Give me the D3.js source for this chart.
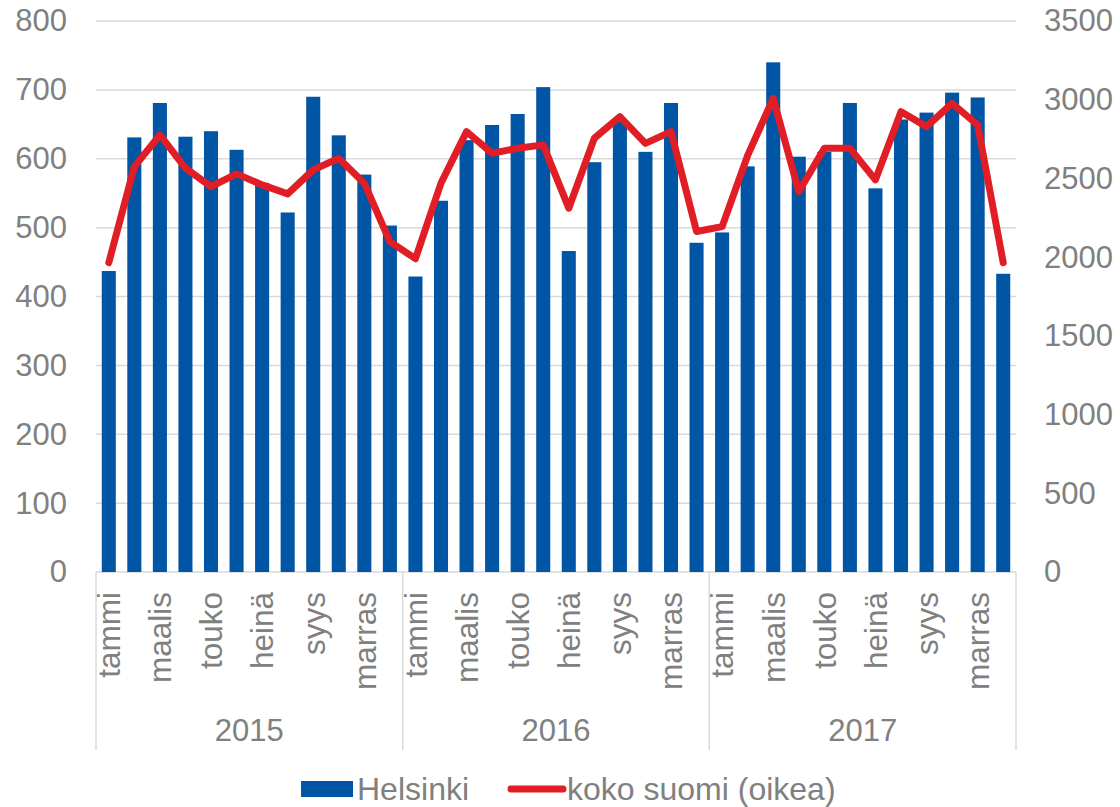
<!DOCTYPE html>
<html>
<head>
<meta charset="utf-8">
<script src="https://cdn.jsdelivr.net/npm/d3@7"></script>
<style>
  body { margin: 0; background: #fff; }
  text { font-family: "Liberation Sans", Arial, sans-serif; fill: #808080; }
</style>
</head>
<body>
<div id="chart-area"></div>
<script>
const WIDTH = 1120;
const HEIGHT = 807;

// data
const years = ["2015", "2016", "2017"];
const monthNames = ["tammi", "helmi", "maalis", "huhti", "touko", "kesä",
                    "heinä", "elo", "syys", "loka", "marras", "joulu"];
const shownMonths = ["tammi", "maalis", "touko", "heinä", "syys", "marras"];
const helsinki = [437, 631, 681, 632, 640, 613, 565, 522, 690, 634, 577, 503,
                  429, 539, 627, 649, 665, 704, 466, 595, 654, 610, 681, 478,
                  493, 589, 740, 603, 610, 681, 557, 657, 667, 696, 689, 433];
const kokoSuomi = [1965, 2575, 2776, 2565, 2448, 2529, 2459, 2402, 2554, 2628, 2470, 2099,
                   1990, 2470, 2797, 2660, 2692, 2713, 2311, 2755, 2893, 2723, 2797, 2163,
                   2194, 2646, 3009, 2416, 2692, 2692, 2491, 2924, 2829, 2977, 2840, 1965];
const leftTicks = [0, 100, 200, 300, 400, 500, 600, 700, 800];
const rightTicks = [0, 500, 1000, 1500, 2000, 2500, 3000, 3500];

const BLUE = "#0055a5";
const RED = "#e11e26";
const GRID = "#d9d9d9";

const margin = {top: 21, right: 104, bottom: 235, left: 96};
const graphWidth = WIDTH - margin.left - margin.right;
const graphHeight = HEIGHT - margin.top - margin.bottom;

const svg = d3.select("#chart-area").append("svg")
  .attr("width", WIDTH)
  .attr("height", HEIGHT);

const graph = svg.append("g")
  .attr("transform", `translate(${margin.left}, ${margin.top})`);

const keys = [];
years.forEach(y => monthNames.forEach(m => keys.push(y + "-" + m)));

// scales
const x = d3.scaleBand()
  .domain(keys)
  .range([0, graphWidth])
  .paddingInner(0.45)
  .paddingOuter(0.225);

const y = d3.scaleLinear().domain([0, 800]).range([graphHeight, 0]);
const y2 = d3.scaleLinear().domain([0, 3500]).range([graphHeight, 0]);

// gridlines
graph.append("g").selectAll("line")
  .data(leftTicks)
  .enter().append("line")
    .attr("x1", 0)
    .attr("x2", graphWidth)
    .attr("y1", d => y(d))
    .attr("y2", d => y(d))
    .attr("stroke", GRID)
    .attr("stroke-width", 1.5);

// left axis
const yAxis = d3.axisLeft(y).tickValues(leftTicks).tickSize(0).tickPadding(29);
const yAxisGroup = graph.append("g").call(yAxis);
yAxisGroup.select(".domain").remove();
yAxisGroup.selectAll("text")
  .attr("font-size", "31px")
  .attr("font-family", "Liberation Sans, Arial, sans-serif")
  .attr("fill", "#808080");

// right axis
const yAxis2 = d3.axisRight(y2).tickValues(rightTicks).tickSize(0).tickPadding(28)
  .tickFormat(d3.format("d"));
const yAxis2Group = graph.append("g")
  .attr("transform", `translate(${graphWidth}, 0)`)
  .call(yAxis2);
yAxis2Group.select(".domain").remove();
yAxis2Group.selectAll("text")
  .attr("font-size", "31px")
  .attr("font-family", "Liberation Sans, Arial, sans-serif")
  .attr("fill", "#808080");

// bars
graph.append("g").selectAll("rect")
  .data(helsinki)
  .enter().append("rect")
    .attr("x", (d, i) => x(keys[i]))
    .attr("y", d => y(d))
    .attr("width", x.bandwidth())
    .attr("height", d => graphHeight - y(d))
    .attr("fill", BLUE);

// line
const line = d3.line()
  .x((d, i) => x(keys[i]) + x.bandwidth() / 2)
  .y(d => y2(d));

graph.append("path")
  .datum(kokoSuomi)
  .attr("d", line)
  .attr("fill", "none")
  .attr("stroke", RED)
  .attr("stroke-width", 7)
  .attr("stroke-linejoin", "round")
  .attr("stroke-linecap", "round");

// category axis: year separators
const yearWidth = graphWidth / years.length;
graph.append("g").selectAll("line")
  .data(d3.range(years.length + 1))
  .enter().append("line")
    .attr("x1", d => d * yearWidth)
    .attr("x2", d => d * yearWidth)
    .attr("y1", graphHeight)
    .attr("y2", graphHeight + 178)
    .attr("stroke", GRID)
    .attr("stroke-width", 1.5);

// month labels
graph.append("g").selectAll("text")
  .data(keys.filter(k => shownMonths.includes(k.split("-")[1])))
  .enter().append("text")
    .attr("transform", d => `translate(${x(d) + x.bandwidth() / 2}, ${graphHeight + 20}) rotate(-90)`)
    .attr("dy", "0.36em")
    .attr("text-anchor", "end")
    .attr("font-size", "31.5px")
    .text(d => d.split("-")[1]);

// year labels
graph.append("g").selectAll("text")
  .data(years)
  .enter().append("text")
    .attr("x", (d, i) => (i + 0.5) * yearWidth)
    .attr("y", graphHeight + 169)
    .attr("text-anchor", "middle")
    .attr("font-size", "31px")
    .text(d => d);

// legend
const legend = svg.append("g");
legend.append("rect")
  .attr("x", 301).attr("y", 781)
  .attr("width", 52).attr("height", 16)
  .attr("fill", BLUE);
legend.append("text")
  .attr("x", 357).attr("y", 800)
  .attr("font-size", "32px")
  .text("Helsinki");
legend.append("line")
  .attr("x1", 511).attr("x2", 563)
  .attr("y1", 789).attr("y2", 789)
  .attr("stroke", RED)
  .attr("stroke-width", 7)
  .attr("stroke-linecap", "round");
legend.append("text")
  .attr("x", 567).attr("y", 800)
  .attr("font-size", "32px")
  .text("koko suomi (oikea)");
</script>
</body>
</html>
